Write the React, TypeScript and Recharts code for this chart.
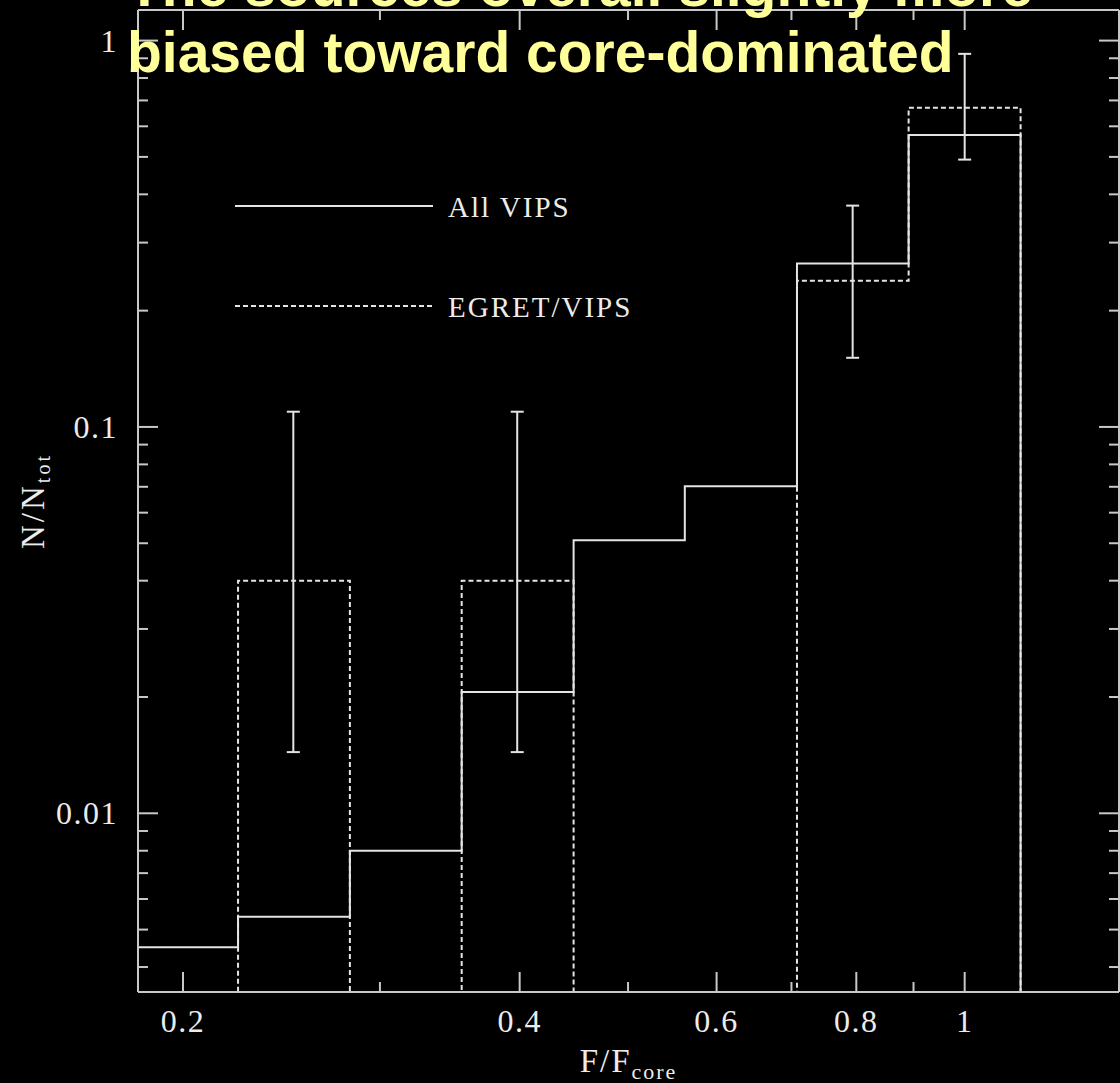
import React from "react";
import { ComposedChart, Line, Scatter, ErrorBar, XAxis, YAxis, Legend } from "recharts";

// Histogram bin edges in F/F_core (bins are 0.1 dex wide)
const binEdges = [0.178, 0.224, 0.282, 0.355, 0.447, 0.562, 0.708, 0.891, 1.122];

// Fraction of sources per bin
const allVipsFrac = [0.0045, 0.0054, 0.008, 0.0206, 0.0509, 0.0702, 0.265, 0.57];
const egretVipsFrac: (number | null)[] = [null, 0.04, null, 0.04, null, null, 0.239, 0.67];

// Error bars on the EGRET/VIPS bins
const errX = [0.251, 0.398, 0.794, 1.0];
const errY = [0.04, 0.04, 0.239, 0.67];
const errLow = [0.0144, 0.0144, 0.151, 0.492];
const errHigh = [0.1095, 0.1095, 0.374, 0.924];

// Axis ticks
const xTicks = [0.2, 0.3, 0.4, 0.5, 0.6, 0.7, 0.8, 0.9, 1];
const xTickLabels = ["0.2", "0.4", "0.6", "0.8", "1"];
const yTicks = [
  0.004, 0.005, 0.006, 0.007, 0.008, 0.009, 0.01,
  0.02, 0.03, 0.04, 0.05, 0.06, 0.07, 0.08, 0.09, 0.1,
  0.2, 0.3, 0.4, 0.5, 0.6, 0.7, 0.8, 0.9, 1,
];
const yTickLabels = ["0.01", "0.1", "1"];

const seriesNames = ["All VIPS", "EGRET/VIPS"];
const titleLines = ["The sources overall slightly more", "biased toward core-dominated"];

const X_DOMAIN: [number, number] = [0.1823, 1.374];
const Y_DOMAIN: [number, number] = [0.003447, 1.2];

const W = 1120;
const H = 1083;
const AXIS_COLOR = "#c8c8c8";
const LINE_COLOR = "#e4e4e4";
const TEXT_COLOR = "#ececec";
const SERIF = "'Liberation Serif', 'Times New Roman', serif";
const DASH = "5 3";

// Histogram outline: each edge carries the value of the bin to its right;
// empty bins sit on the lower edge of the plot.
const toSteps = (vals: (number | null)[]) =>
  vals
    .map((v, i) => ({ x: binEdges[i], y: v ?? Y_DOMAIN[0] }))
    .concat({ x: binEdges[binEdges.length - 1], y: Y_DOMAIN[0] });

const allVipsSteps = toSteps(allVipsFrac);
const egretVipsSteps = toSteps(egretVipsFrac);

const errData = errX.map((x, i) => ({
  x,
  y: errY[i],
  err: [errY[i] - errLow[i], errHigh[i] - errY[i]],
}));

const labelFor = (labels: string[], v: number) => labels.find((l) => Number(l) === v);

const tickText = {
  fill: TEXT_COLOR,
  fontFamily: SERIF,
  fontSize: 32,
  letterSpacing: 1.5,
};

const BottomTick = (p: any) => {
  const label = labelFor(xTickLabels, p.payload.value);
  const len = label ? 20 : 10;
  return (
    <g>
      <line x1={p.x} x2={p.x} y1={p.y} y2={p.y - len} stroke={AXIS_COLOR} strokeWidth={2} />
      {label && (
        <text x={p.x} y={p.y + 40} textAnchor="middle" {...tickText}>
          {label}
        </text>
      )}
    </g>
  );
};

const TopTick = (p: any) => {
  const len = labelFor(xTickLabels, p.payload.value) ? 20 : 10;
  return <line x1={p.x} x2={p.x} y1={p.y} y2={p.y + len} stroke={AXIS_COLOR} strokeWidth={2} />;
};

const LeftTick = (p: any) => {
  const label = labelFor(yTickLabels, p.payload.value);
  const len = label ? 20 : 10;
  return (
    <g>
      <line x1={p.x} x2={p.x + len} y1={p.y} y2={p.y} stroke={AXIS_COLOR} strokeWidth={2} />
      {label && (
        <text x={p.x - 20} y={p.y + 11} textAnchor="end" {...tickText}>
          {label}
        </text>
      )}
    </g>
  );
};

const RightTick = (p: any) => {
  const len = labelFor(yTickLabels, p.payload.value) ? 20 : 10;
  return <line x1={p.x} x2={p.x - len} y1={p.y} y2={p.y} stroke={AXIS_COLOR} strokeWidth={2} />;
};

const XTitle = (p: any) => {
  const vb = p.viewBox || { x: 138, y: 992, width: 981 };
  const cx = vb.x + vb.width / 2;
  return (
    <text x={cx} y={vb.y + 80} textAnchor="middle" fill={TEXT_COLOR} fontFamily={SERIF} fontSize={33} letterSpacing={2}>
      F/F
      <tspan fontSize={22} dy={7}>core</tspan>
    </text>
  );
};

const YTitle = (p: any) => {
  const vb = p.viewBox || { x: 0, y: 10, height: 982 };
  const cy = vb.y + vb.height / 2;
  const bx = 44;
  return (
    <text
      x={bx}
      y={cy}
      transform={`rotate(-90, ${bx}, ${cy})`}
      textAnchor="middle"
      fill={TEXT_COLOR}
      fontFamily={SERIF}
      fontSize={33}
      letterSpacing={3}
    >
      N/N
      <tspan fontSize={20} dy={6}>tot</tspan>
    </text>
  );
};

const dashFor = (name: string) => (name === seriesNames[1] ? DASH : undefined);

const LegendBox = (props: any) => {
  const entries = (props.payload || [])
    .filter((e: any) => seriesNames.includes(e.value))
    .sort((a: any, b: any) => seriesNames.indexOf(a.value) - seriesNames.indexOf(b.value));
  return (
    <svg width={430} height={140} style={{ display: "block" }}>
      {entries.map((entry: any, i: number) => (
        <g key={entry.value} transform={`translate(0, ${16 + i * 100})`}>
          <line x1={5} x2={203} y1={0} y2={0} stroke={LINE_COLOR} strokeWidth={2} strokeDasharray={dashFor(entry.value)} />
          <text x={218} y={11} fill={TEXT_COLOR} fontFamily={SERIF} fontSize={29} letterSpacing={2}>
            {entry.value}
          </text>
        </g>
      ))}
    </svg>
  );
};

export default function App() {
  return (
    <div style={{ position: "relative", width: W, height: H, background: "#000", overflow: "hidden" }}>
      <style>{"body{margin:0;background:#000;}"}</style>
      <ComposedChart width={W} height={H} margin={{ top: 9, right: 0, bottom: 0, left: 0 }}>
        <XAxis
          dataKey="x"
          type="number"
          scale="log"
          domain={X_DOMAIN}
          allowDataOverflow
          ticks={xTicks}
          interval={0}
          tickSize={0}
          tickMargin={0}
          tickLine={false}
          tick={<BottomTick />}
          height={91}
          axisLine={{ stroke: AXIS_COLOR, strokeWidth: 2 }}
          label={<XTitle />}
        />
        <XAxis
          xAxisId="top"
          orientation="top"
          dataKey="x"
          type="number"
          scale="log"
          domain={X_DOMAIN}
          allowDataOverflow
          ticks={xTicks}
          interval={0}
          tickSize={0}
          tickMargin={0}
          tickLine={false}
          tick={<TopTick />}
          height={1}
          axisLine={{ stroke: AXIS_COLOR, strokeWidth: 2 }}
        />
        <YAxis
          dataKey="y"
          type="number"
          scale="log"
          domain={Y_DOMAIN}
          allowDataOverflow
          ticks={yTicks}
          interval={0}
          tickSize={0}
          tickMargin={0}
          tickLine={false}
          tick={<LeftTick />}
          width={138}
          axisLine={{ stroke: AXIS_COLOR, strokeWidth: 2 }}
          label={<YTitle />}
        />
        <YAxis
          yAxisId="right"
          orientation="right"
          dataKey="y"
          type="number"
          scale="log"
          domain={Y_DOMAIN}
          allowDataOverflow
          ticks={yTicks}
          interval={0}
          tickSize={0}
          tickMargin={0}
          tickLine={false}
          tick={<RightTick />}
          width={1}
          axisLine={{ stroke: AXIS_COLOR, strokeWidth: 2 }}
        />
        <Legend
          layout="horizontal"
          verticalAlign="middle"
          align="center"
          content={<LegendBox />}
          wrapperStyle={{ position: "absolute", left: 230, top: 190, width: 430, height: 140 }}
        />
        <Line
          name={seriesNames[1]}
          data={egretVipsSteps}
          dataKey="y"
          type="stepAfter"
          stroke={LINE_COLOR}
          strokeWidth={2}
          strokeDasharray={DASH}
          dot={false}
          activeDot={false}
          legendType="line"
          isAnimationActive={false}
        />
        <Line
          name={seriesNames[0]}
          data={allVipsSteps}
          dataKey="y"
          type="stepAfter"
          stroke={LINE_COLOR}
          strokeWidth={2}
          dot={false}
          activeDot={false}
          legendType="line"
          isAnimationActive={false}
        />
        <Scatter
          name="errors"
          data={errData}
          dataKey="y"
          legendType="none"
          shape={() => <g />}
          isAnimationActive={false}
        >
          <ErrorBar dataKey="err" direction="y" width={6.5} stroke={LINE_COLOR} strokeWidth={2} isAnimationActive={false} />
        </Scatter>
      </ComposedChart>
      <svg width={W} height={H} style={{ position: "absolute", left: 0, top: 0, pointerEvents: "none" }}>
        {titleLines.map((line, i) => (
          <text
            key={line}
            x={127}
            y={6 + i * 66}
            fill="#ffff99"
            fontFamily="'Liberation Sans', Arial, sans-serif"
            fontWeight="bold"
            fontSize={57}
          >
            {line}
          </text>
        ))}
      </svg>
    </div>
  );
}
